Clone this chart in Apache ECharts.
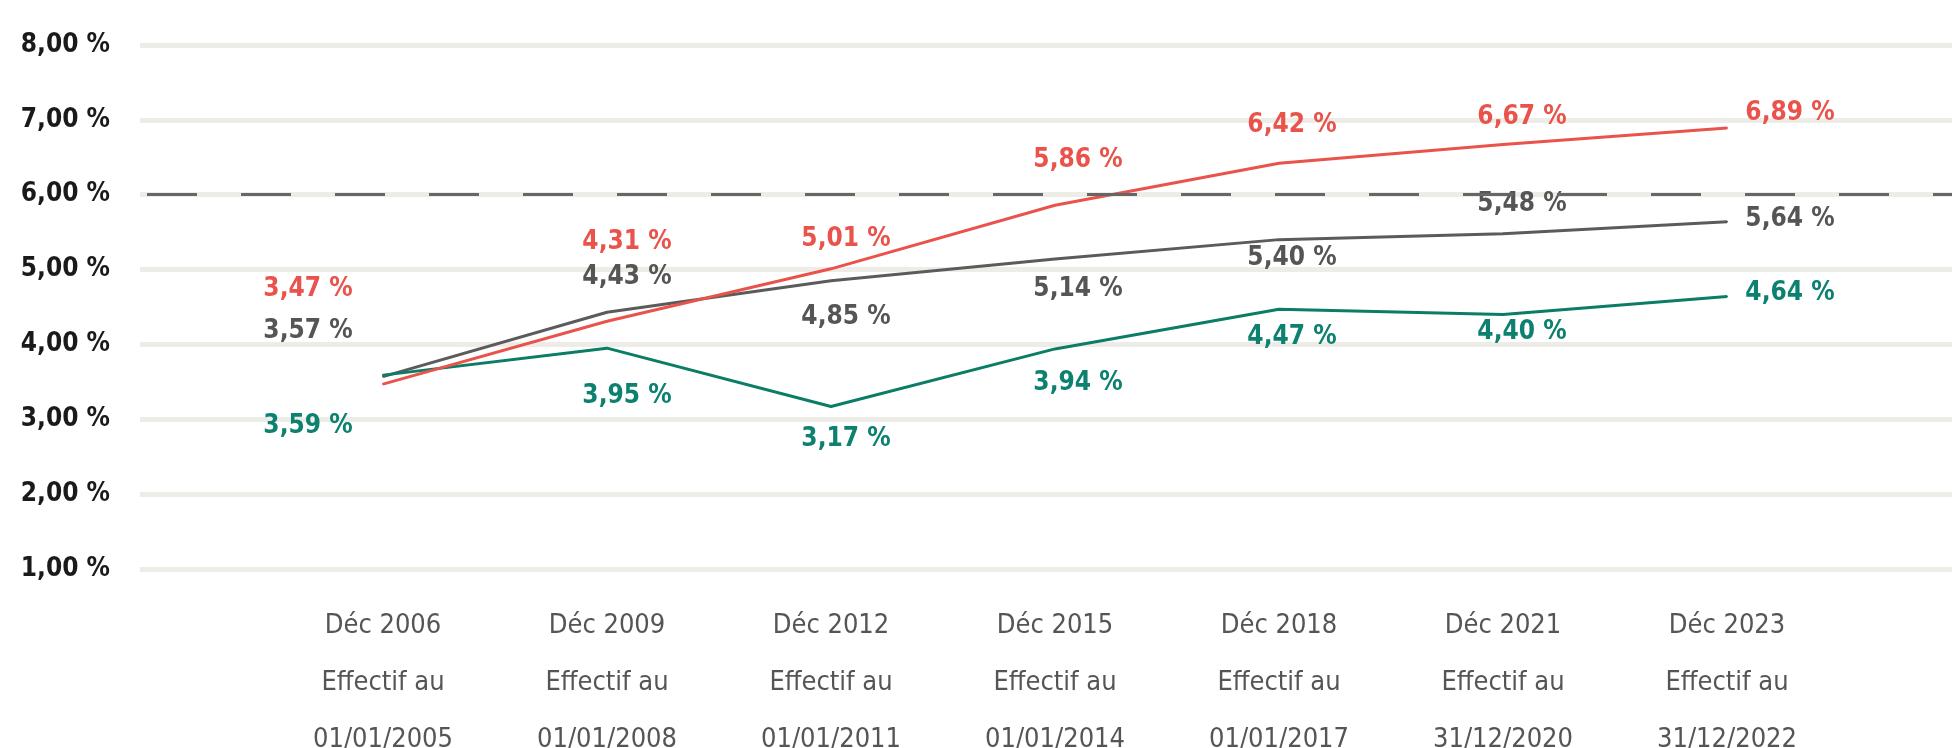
<!DOCTYPE html>
<html>
<head>
<meta charset="utf-8">
<script src="https://cdn.jsdelivr.net/npm/echarts@6/dist/echarts.min.js"></script>
<style>
  html, body { margin: 0; padding: 0; background: #fff; }
  #chart { width: 1952px; height: 748px; }
</style>
</head>
<body>
<div id="chart"></div>
<script>
// Categories (x axis, 3 lines each)
const periods = ['Déc 2006', 'Déc 2009', 'Déc 2012', 'Déc 2015', 'Déc 2018', 'Déc 2021', 'Déc 2023'];
const effectifs = ['01/01/2005', '01/01/2008', '01/01/2011', '01/01/2014', '01/01/2017', '31/12/2020', '31/12/2022'];

// Series values (%)
const redValues = [3.47, 4.31, 5.01, 5.86, 6.42, 6.67, 6.89];
const grayValues = [3.57, 4.43, 4.85, 5.14, 5.40, 5.48, 5.64];
const greenValues = [3.59, 3.95, 3.17, 3.94, 4.47, 4.40, 4.64];

// Y axis ticks
const yTicks = [1, 2, 3, 4, 5, 6, 7, 8];
const thresholdValue = 6;

// Label placement (pixels, relative to the point)
const labelShiftX = [-75, 20, 15, 23, 13, 19, 63];
const redShiftY = [-95, -79, -30, -45, -38, -27, -15];
const grayShiftY = [-45, -35, 36, 30, 19, -29, -2];
const greenShiftY = [51, 48, 33, 34, 28, 18, -3];

const FONT = "'Liberation Sans Narrow', 'DejaVu Sans Condensed', sans-serif";

function pct(v) {
  return v.toFixed(2).replace('.', ',') + ' %';
}

function makeLine(name, values, shiftY, color, labelColor) {
  return {
    name: name,
    type: 'line',
    xAxisIndex: 1,
    yAxisIndex: 1,
    symbol: 'circle',
    symbolSize: 2,
    showSymbol: true,
    itemStyle: { color: color },
    lineStyle: { color: color, width: 3 },
    label: {
      show: true,
      position: 'inside',
      formatter: p => pct(p.value),
      color: labelColor,
      fontFamily: FONT,
      fontWeight: 'bold',
      fontSize: 26
    },
    data: values.map((v, i) => ({
      value: v,
      label: { offset: [labelShiftX[i], shiftY[i]] }
    })),
    z: 3
  };
}

const chart = echarts.init(document.getElementById('chart'));

chart.setOption({
  animation: false,
  grid: [
    { left: 140, right: 0, top: 45, bottom: 179, containLabel: false, outerBoundsMode: 'none' },
    { left: 271, right: 113, top: 45, bottom: 179, containLabel: false, outerBoundsMode: 'none' }
  ],
  xAxis: [
    { gridIndex: 0, type: 'value', min: 0, max: 1, show: false },
    {
      gridIndex: 1,
      type: 'category',
      boundaryGap: true,
      data: periods.map((p, i) => p + '\nEffectif au\n' + effectifs[i]),
      axisLine: { show: false },
      axisTick: { show: false },
      axisLabel: {
        margin: 28,
        lineHeight: 57,
        fontSize: 27,
        fontFamily: FONT,
        color: '#555'
      }
    }
  ],
  yAxis: [
    {
      gridIndex: 0,
      type: 'value',
      min: yTicks[0],
      max: yTicks[yTicks.length - 1],
      interval: 1,
      axisLine: { show: false },
      axisTick: { show: false },
      axisLabel: {
        margin: 30,
        formatter: v => pct(v),
        fontFamily: FONT,
        fontWeight: 'bold',
        fontSize: 26,
        color: '#1a1a1a'
      },
      splitLine: { lineStyle: { color: '#eeece6', width: 5 } }
    },
    {
      gridIndex: 1,
      type: 'value',
      min: yTicks[0],
      max: yTicks[yTicks.length - 1],
      interval: 1,
      show: false
    }
  ],
  series: [
    {
      type: 'line',
      xAxisIndex: 0,
      yAxisIndex: 0,
      data: [],
      markLine: {
        silent: true,
        symbol: 'none',
        label: { show: false },
        lineStyle: { color: '#666', width: 3, type: [50, 44], dashOffset: 87 },
        data: [{ yAxis: thresholdValue }]
      }
    },
    makeLine('Gris', grayValues, grayShiftY, '#5b5b5b', '#555'),
    makeLine('Vert', greenValues, greenShiftY, '#0b7d66', '#0d8170'),
    makeLine('Rouge', redValues, redShiftY, '#e9534c', '#e9534c')
  ]
});
</script>
</body>
</html>
